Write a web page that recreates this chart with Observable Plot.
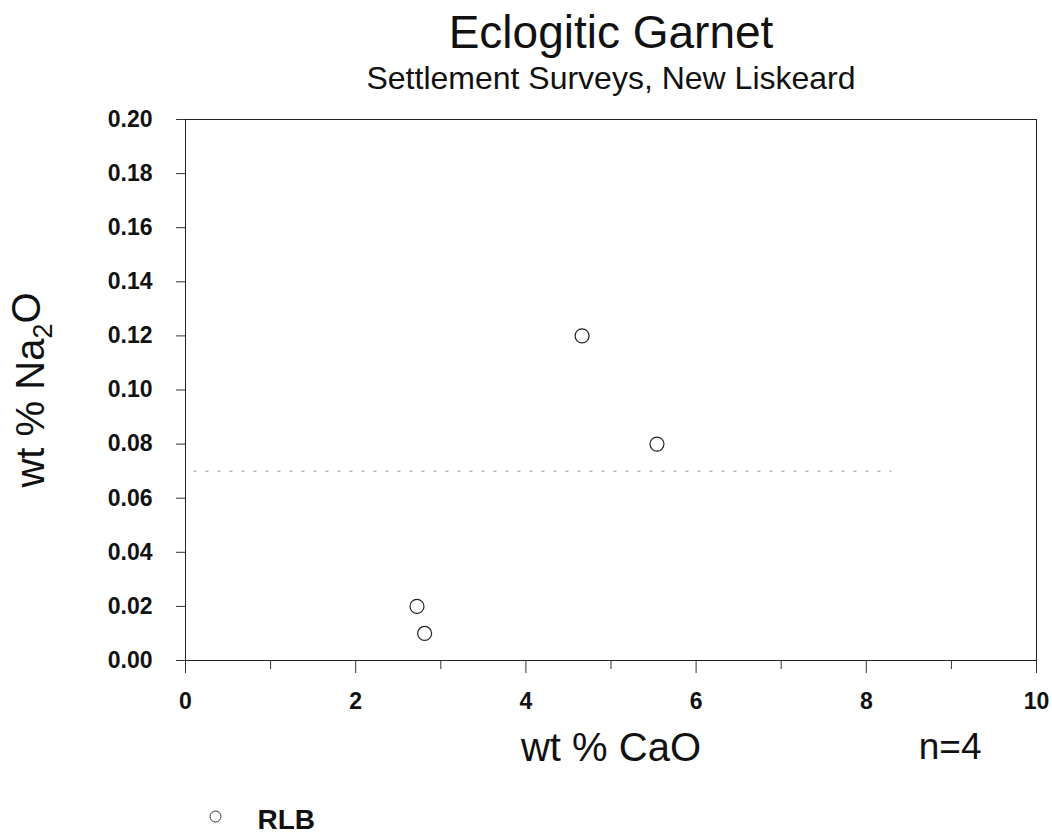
<!DOCTYPE html>
<html>
<head>
<meta charset="utf-8">
<script src="https://cdn.jsdelivr.net/npm/d3@7"></script>
<script src="https://cdn.jsdelivr.net/npm/@observablehq/plot@0.6"></script>
<style>
  html, body { margin: 0; padding: 0; background: #fff; }
  #chart svg { display: block; }
</style>
</head>
<body>
<div id="chart"></div>
<script>
// ---- data ----
const cao  = [2.72, 2.81, 4.66, 5.54];   // wt % CaO
const na2o = [0.02, 0.01, 0.12, 0.08];   // wt % Na2O
const series = ["RLB", "RLB", "RLB", "RLB"];
const xMajorTicks = [0, 2, 4, 6, 8, 10];
const xMinorTicks = [1, 3, 5, 7, 9];
const yTicks = [0, 0.02, 0.04, 0.06, 0.08, 0.10, 0.12, 0.14, 0.16, 0.18, 0.20];
const refLine = [{x1: 0.1, x2: 8.3, y: 0.07}];
const titleText = "Eclogitic Garnet";
const subtitleText = "Settlement Surveys, New Liskeard";
const xLabel = "wt % CaO";
const yLabel = "wt % Na2O";
const nLabel = "n=4";
const legendLabels = ["RLB"];

const points = cao.map((x, i) => ({x, y: na2o[i], s: series[i]}));
const font = "'Liberation Sans', Arial, Helvetica, sans-serif";

const plot = Plot.plot({
  width: 1052,
  height: 835,
  marginLeft: 185,
  marginRight: 16,
  marginTop: 119,
  marginBottom: 175,
  style: {fontFamily: font, background: "#fff", color: "#111"},
  x: {domain: [0, 10]},
  y: {domain: [0, 0.2]},
  marks: [
    Plot.ruleY(refLine, {x1: "x1", x2: "x2", y: "y", stroke: "#999", strokeWidth: 1, strokeDasharray: "3,9"}),
    Plot.frame({stroke: "#222", strokeWidth: 1}),
    Plot.axisX({ticks: xMinorTicks, tickSize: 9, tickFormat: () => "", label: null, stroke: "#333"}),
    Plot.axisX({ticks: xMajorTicks, tickSize: 13, tickPadding: 19, label: null,
      fontSize: 23, fontWeight: "bold", stroke: "#333", fill: "#111"}),
    Plot.axisY({ticks: yTicks, tickSize: 9, tickPadding: 24, label: null,
      tickFormat: d3.format(".2f"), fontSize: 23, fontWeight: "bold", stroke: "#333", fill: "#111"}),
    Plot.dot(points, {x: "x", y: "y", r: 7, stroke: "#222", strokeWidth: 1.2, fill: "none"}),
    // titles
    Plot.text([titleText], {text: d => d, frameAnchor: "top", textAnchor: "middle", lineAnchor: "bottom", dy: -72,
      fontSize: 46, fill: "#111"}),
    Plot.text([subtitleText], {text: d => d, frameAnchor: "top", textAnchor: "middle", lineAnchor: "bottom", dy: -31,
      fontSize: 32, fill: "#111"}),
    // axis labels
    Plot.text([xLabel], {text: d => d, frameAnchor: "bottom", textAnchor: "middle", lineAnchor: "bottom", dy: 100,
      fontSize: 40, fill: "#111"}),
    Plot.text([nLabel], {text: d => d, frameAnchor: "bottom-right", textAnchor: "end", lineAnchor: "bottom",
      dx: -55, dy: 98, fontSize: 37, fill: "#111"}),
    Plot.text([yLabel], {text: d => d, frameAnchor: "left", textAnchor: "middle", lineAnchor: "bottom", rotate: -90,
      dx: -142, fontSize: 40, fill: "#111"}),
    // legend
    Plot.dot(legendLabels, {frameAnchor: "bottom-left", dx: 30, dy: 156, r: 5.5, stroke: "#333", strokeWidth: 1, fill: "none"}),
    Plot.text(legendLabels, {text: d => d, frameAnchor: "bottom-left", textAnchor: "start", lineAnchor: "bottom",
      dx: 72, dy: 168, fontSize: 28, fontWeight: "bold", fill: "#111"})
  ]
});

// subscript in the y label
d3.select(plot).selectAll("text").filter(function() { return this.textContent === yLabel; })
  .each(function() {
    const t = d3.select(this);
    t.text("");
    t.append("tspan").text("wt % Na");
    t.append("tspan").attr("font-size", 27).attr("dy", "0.3em").text("2");
    t.append("tspan").attr("dy", "-0.3em").text("O");
  });

document.getElementById("chart").appendChild(plot);
</script>
</body>
</html>
